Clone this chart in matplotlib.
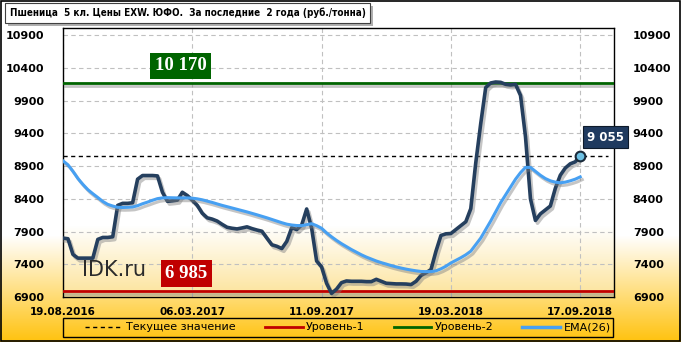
import matplotlib
matplotlib.use("Agg")
import matplotlib.pyplot as plt
import numpy as np
from matplotlib import patheffects as pe
from matplotlib import font_manager
from matplotlib.patches import Rectangle
from matplotlib.lines import Line2D

# weekly prices, rub/t
price = [7800, 7790, 7550, 7494, 7494, 7494, 7494, 7780, 7810, 7810,
         7820, 8300, 8331, 8331, 8340, 8700, 8756, 8756, 8756, 8750,
         8500, 8362, 8370, 8380, 8500, 8450, 8380, 8300, 8180, 8110,
         8090, 8060, 8010, 7965, 7950, 7940, 7955, 7972, 7945, 7923,
         7905, 7800, 7698, 7675, 7640, 7750, 7960, 7930, 8000, 8245,
         7950, 7450, 7360, 7110, 6955, 7020, 7119, 7145, 7140, 7140,
         7140, 7135, 7135, 7170, 7140, 7110, 7105, 7100, 7100, 7098,
         7090, 7140, 7230, 7270, 7320, 7600, 7840, 7865, 7870, 7930,
         7990, 8050, 8250, 8950, 9550, 10100, 10170, 10185, 10180, 10150,
         10140, 10150, 9980, 9350, 8400, 8070, 8170, 8230, 8290, 8560,
         8760, 8870, 8935, 8965, 9055]

ema = [8980, 8920, 8820, 8710, 8620, 8540, 8478, 8420, 8360, 8315,
       8290, 8270, 8268, 8270, 8275, 8295, 8325, 8350, 8378, 8403,
       8414, 8418, 8416, 8414, 8414, 8414, 8410, 8400, 8385, 8365,
       8345, 8322, 8300, 8280, 8260, 8240, 8220, 8200, 8178, 8156,
       8133, 8110, 8085, 8060, 8035, 8013, 8000, 7992, 7990, 8005,
       8020, 7990, 7950, 7880, 7820, 7765, 7715, 7670, 7625, 7585,
       7545, 7510, 7480, 7450, 7425, 7403, 7380, 7360, 7342, 7326,
       7312, 7300, 7290, 7288, 7288, 7300, 7330, 7370, 7420, 7460,
       7500, 7545, 7600, 7700, 7800, 7930, 8060, 8200, 8340, 8460,
       8580, 8700, 8800, 8880, 8880, 8820, 8760, 8710, 8675, 8655,
       8645, 8655, 8675, 8700, 8735]

level1 = 6985
level2 = 10170
current = price[-1]

tick_pos = [0, 26, 52, 78, 104]
tick_labels = ["19.08.2016", "06.03.2017", "11.09.2017", "19.03.2018", "17.09.2018"]
y_ticks = [6900, 7400, 7900, 8400, 8900, 9400, 9900, 10400, 10900]

title = "Пшеница  5 кл. Цены EXW. ЮФО.  За последние  2 года (руб./тонна)"

fonts = font_manager.fontManager.ttflist
names = {f.name for f in fonts}
stretch = "normal"
if "Liberation Sans Narrow" in names:
    narrow = "Liberation Sans Narrow"
elif any(f.name == "DejaVu Sans" and f.stretch == "condensed" for f in fonts):
    narrow = "DejaVu Sans"
    stretch = "condensed"
elif "Roboto" in names:
    narrow = "Roboto"
else:
    narrow = "DejaVu Sans"
serif = "Liberation Serif" if "Liberation Serif" in names else "DejaVu Serif"

W, H = 681, 342
def fx(px):
    return px / W
def fy(py):
    return 1 - py / H

fig = plt.figure(figsize=(W / 100, H / 100), dpi=100)

# background: white -> gold, lighter inside the plot area
L, R, T, B = 63, 614, 28, 297
bg = np.ones((H, W, 3))
rows = np.arange(H)[:, None]
t_out = np.clip((rows - 235) / (H - 235), 0, 1)
gold = np.array([1.0, 0.76, 0.05])
bg[:] = (1 - t_out[..., None]) * 1.0 + t_out[..., None] * gold
t_in = np.clip((np.arange(T, B)[:, None] - 225) / (B - 225), 0, 1)
light = np.array([0.99, 0.89, 0.60])
bg[T:B, L:R] = (1 - t_in[..., None]) * 1.0 + t_in[..., None] * light
bax = fig.add_axes([0, 0, 1, 1], zorder=-5)
bax.imshow(bg, aspect="auto", extent=[0, W, H, 0])
bax.axis("off")

fig.patches.append(Rectangle((0.001, 0.002), 0.997, 0.995, transform=fig.transFigure,
                             fill=False, ec="black", lw=1.2))

ax = fig.add_axes([fx(L), fy(B), fx(R) - fx(L), fy(T) - fy(B)])
ax.patch.set_alpha(0)
x = np.arange(len(price))

shadow = [pe.SimpleLineShadow(offset=(1.5, -2), shadow_color="gray", alpha=0.45), pe.Normal()]

ax.axhline(level1, color="#C00000", lw=2, path_effects=shadow, zorder=3)
ax.axhline(level2, color="#006400", lw=2, path_effects=shadow, zorder=3)
ax.axhline(current, xmin=0, xmax=0.99, color="black", lw=1, ls=(0, (3, 2.5)), zorder=3)

ax.plot(x, price, color="#253f5e", lw=2.6, solid_joinstyle="round",
        path_effects=shadow, zorder=4)
ax.plot(x, ema, color="#47a0f2", lw=2.2, path_effects=shadow, zorder=5)
ax.plot(x[-1], price[-1], "o", ms=7, mfc="#6ec1e4", mec="#1a2a3a", mew=1.5, zorder=6)

ax.set_xlim(0, 110.8)
ax.set_ylim(6900, 11010)
ax.set_yticks(y_ticks)
ax.set_xticks(tick_pos)
ax.set_xticklabels(tick_labels)
ax.tick_params(axis="y", which="both", left=False, right=False, labelleft=True,
               labelright=True, labelsize=8, pad=10)
ax.tick_params(axis="x", bottom=False, labelsize=7.5, pad=3.5)
for lab in ax.get_xticklabels() + ax.get_yticklabels():
    lab.set_fontweight("bold")
ax.grid(True, color="#c0c0c0", lw=0.8, ls=(0, (4, 3)))
for s in ax.spines.values():
    s.set_color("black")
    s.set_linewidth(1)

# value labels
ax.text(23.7, 10430, f"{level2:,}".replace(",", " "), color="white", fontsize=13.5,
        fontweight="bold", family=serif, ha="center", va="center", zorder=7,
        bbox=dict(boxstyle="square,pad=0.25", fc="#006400", ec="none"))
ax.text(24.8, 7260, f"{level1:,}".replace(",", " "), color="white", fontsize=13.5,
        fontweight="bold", family=serif, ha="center", va="center", zorder=7,
        bbox=dict(boxstyle="square,pad=0.25", fc="#C00000", ec="none"))
ax.text(3.9, 7320, "IDK.ru", color="#2b2b2b", fontsize=15, ha="left", va="center", zorder=7)
ax.text(109.1, 9344, f"{current:,}".replace(",", " "), color="white", fontsize=8.5,
        fontweight="bold", ha="center", va="center", zorder=7, clip_on=False,
        bbox=dict(boxstyle="square,pad=0.35", fc="#1f3a5f", ec="#0d1a2a", lw=0.8))

# title box, font size fitted to the box width
ttl = fig.text(fx(10), fy(13), title, fontsize=9, fontweight="bold", family=narrow,
               fontstretch=stretch, ha="left", va="center", zorder=3)
r = fig.canvas.get_renderer()
w = ttl.get_window_extent(renderer=r).width
ttl.set_fontsize(min(9.5, 9 * 356 / w))
fig.patches.append(Rectangle((fx(8), fy(26)), fx(370) - fx(5), fy(3) - fy(23),
                             transform=fig.transFigure, fc="#b0b0b0", ec="none", zorder=1))
fig.patches.append(Rectangle((fx(5), fy(23)), fx(370) - fx(5), fy(3) - fy(23),
                             transform=fig.transFigure, fc="white", ec="#404040", lw=0.8, zorder=2))

# legend
handles = [Line2D([], [], color="black", lw=1, ls=(0, (3, 2.5))),
           Line2D([], [], color="#C00000", lw=2),
           Line2D([], [], color="#006400", lw=2),
           Line2D([], [], color="#47a0f2", lw=2.5)]
labels = ["Текущее значение", "Уровень-1", "Уровень-2", "EMA(26)"]
fig.patches.append(Rectangle((fx(63), fy(337)), fx(613) - fx(63), fy(318) - fy(337),
                             transform=fig.transFigure, fill=False, ec="black", lw=1))
fig.legend(handles, labels, loc="center", bbox_to_anchor=(fx(348), fy(327.5)),
           bbox_transform=fig.transFigure, ncol=4, fontsize=8, frameon=False,
           handlelength=3.4, handletextpad=0.3, columnspacing=2.6,
           borderpad=0, borderaxespad=0)

fig.savefig("out.png", dpi=100)
